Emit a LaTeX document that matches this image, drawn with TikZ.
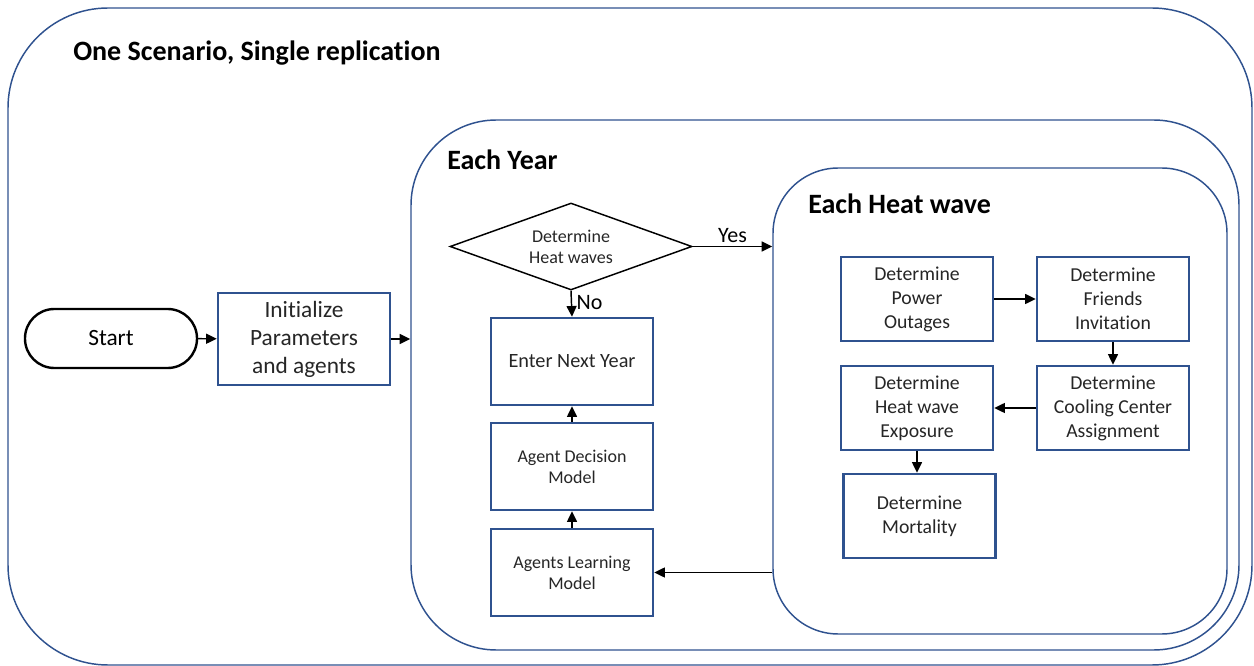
\documentclass[tikz,border=0pt]{standalone}
\usepackage{fontspec}
\setmainfont{Carlito}[Ligatures=NoCommon]
\usetikzlibrary{arrows.meta}
\usetikzlibrary{shapes.geometric}
\definecolor{boxblue}{RGB}{47,82,143}
\definecolor{txtgray}{RGB}{38,38,38}

\begin{document}
\begin{tikzpicture}[x=0.75pt,y=-0.75pt,
    box/.style={draw=boxblue, line width=1.9pt, fill=white, align=center, inner sep=0pt, text=txtgray, font=\fontsize{14.8}{18}\selectfont},
    smallbox/.style={box, font=\fontsize{13.5}{15.75}\selectfont, minimum width=121.5pt, minimum height=65.25pt},
    hwbox/.style={box, minimum width=114pt, minimum height=63pt},
    frame/.style={draw=boxblue, line width=1.1pt},
    title/.style={anchor=west, inner sep=0pt, font=\fontsize{21}{25}\selectfont\bfseries},
    arr/.style={-{Triangle[length=8pt,width=7.5pt]}, line width=1.1pt},
    lbl/.style={font=\fontsize{16.5}{18}\selectfont}]
            \useasboundingbox (0,0) rectangle (1254,666);
            % nested loops
            \draw[frame, rounded corners=75pt] (8,8) rectangle (1252,665);
            \node[frame, rounded corners=64pt, minimum width=621pt, minimum height=397.5pt] (year) at (825,385) {};
            \node[frame, rounded corners=49pt, minimum width=340.5pt, minimum height=349.5pt] (heat) at (1000,401) {};
            \node[title] (tscen) at (73,53) {One Scenario, Single replication};
            \node[title] (tyear) at (447,160) {Each Year};
            \node[title] (theat) at (808,204) {Each Heat wave};
            % start
            \node[draw, line width=1.8pt, rounded corners=22pt, minimum width=129pt, minimum height=44.25pt, font=\fontsize{17.5}{21}\selectfont] (start) at (111,338.5) {Start};
            \node[box, minimum width=129pt, minimum height=69pt, font=\fontsize{17.5}{21}\selectfont] (init) at (304,339) {Initialize\\Parameters\\and agents};
            \draw[arr] (start) -- (init);
            \draw[arr] (init.east) -- (init.east -| year.west);
            % each year
            \node[diamond, draw, line width=1.1pt, aspect=2.8, inner sep=0pt, minimum width=181.5pt, minimum height=65.25pt, align=center, text=txtgray, font=\fontsize{13.5}{15.75}\selectfont] (hw) at (571,246.5) {Determine\\Heat waves};
            \node[smallbox, font=\fontsize{15.2}{18}\selectfont] (next) at (572,361.5) {Enter Next Year};
            \node[smallbox] (decide) at (572,466.5) {Agent Decision\\Model};
            \node[smallbox] (learn) at (572,572.5) {Agents Learning\\Model};
            \draw[arr] (hw.south) -- (next.north) node[pos=0.45, right=0pt, lbl] {No};
            \draw[arr] (hw.east) -- (hw.east -| heat.west) node[midway, above=-1pt, lbl] {Yes};
            \draw[arr] (learn) -- (decide);
            \draw[arr] (decide) -- (next);
            \draw[arr] (learn.east -| heat.west) -- (learn.east);
            % each heat wave
            \node[hwbox] (power) at (917,299) {Determine\\Power\\Outages};
            \node[hwbox] (friends) at (1113,299) {Determine\\Friends\\Invitation};
            \node[hwbox] (cool) at (1113,408) {Determine\\Cooling Center\\Assignment};
            \node[hwbox] (expo) at (917,408) {Determine\\Heat wave\\Exposure};
            \node[hwbox] (mort) at (919.5,516) {Determine\\Mortality};
            \draw[arr] (power) -- (friends);
            \draw[arr] (friends) -- (cool);
            \draw[arr] (cool) -- (expo);
            \draw[arr] (expo.south) -- (expo.south |- mort.north);
        \end{tikzpicture}
\end{document}
